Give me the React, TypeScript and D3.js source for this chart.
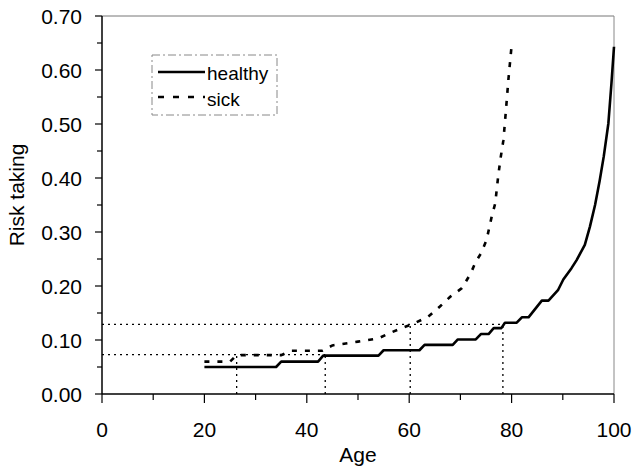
import React from "react";
import * as d3 from "d3";

const healthyAge = [20, 34, 35, 42.2, 43.2, 54, 55, 62, 63, 68.5, 69.5, 73, 74, 75.5, 76.5, 78, 78.7, 81, 82, 83.3, 85.9, 87.2, 89.1, 90.1, 91.7, 92.7, 94.3, 95.3, 96.3, 97.2, 98, 98.9, 99.5, 100];
const healthyRisk = [0.05, 0.05, 0.06, 0.06, 0.071, 0.071, 0.081, 0.081, 0.091, 0.091, 0.101, 0.101, 0.111, 0.111, 0.122, 0.122, 0.132, 0.132, 0.142, 0.142, 0.173, 0.173, 0.193, 0.212, 0.233, 0.248, 0.276, 0.31, 0.35, 0.395, 0.44, 0.501, 0.575, 0.643];

const sickAge = [20, 25, 26.3, 35, 37, 43, 45, 50, 54, 56, 58.5, 61, 63.7, 66, 68, 70.3, 72, 73, 74, 75.1, 76.1, 76.8, 77.4, 77.9, 78.4, 78.9, 79.4, 80];
const sickRisk = [0.06, 0.06, 0.072, 0.072, 0.08, 0.08, 0.09, 0.097, 0.103, 0.112, 0.122, 0.131, 0.143, 0.162, 0.18, 0.196, 0.223, 0.245, 0.26, 0.285, 0.328, 0.353, 0.405, 0.44, 0.47, 0.526, 0.585, 0.645];

// reference (dotted) guide lines: [level, age of sick, age of healthy]
const guideLevels = [0.073, 0.129];
const guideSickAges = [26.3, 60.2];
const guideHealthyAges = [43.6, 78.3];

const xMajor = [0, 20, 40, 60, 80, 100];
const xMinor = [10, 30, 50, 70, 90];
const yMajor = [0, 0.1, 0.2, 0.3, 0.4, 0.5, 0.6, 0.7];
const yMinor = [0.05, 0.15, 0.25, 0.35, 0.45, 0.55, 0.65];

const FONT = "'Liberation Sans', Arial, sans-serif";

export default function App() {
  const x = d3.scaleLinear().domain([0, 100]).range([102, 614]);
  const y = d3.scaleLinear().domain([0, 0.7]).range([394, 16]);
  const line = d3
    .line<[number, number]>()
    .x((d) => x(d[0]))
    .y((d) => y(d[1]));
  const healthy = healthyAge.map((a, i) => [a, healthyRisk[i]] as [number, number]);
  const sick = sickAge.map((a, i) => [a, sickRisk[i]] as [number, number]);

  return (
    <svg
      width={635}
      height={473}
      style={{ position: "absolute", left: 0, top: 0, background: "#fff" }}
      fontFamily={FONT}
    >
      {/* frame top/right */}
      <line x1={x(0)} x2={x(100)} y1={y(0.7)} y2={y(0.7)} stroke="#777" strokeWidth={1} />
      <line x1={x(100)} x2={x(100)} y1={y(0.7)} y2={y(0)} stroke="#888" strokeWidth={1} />

      {/* guide lines */}
      {guideLevels.map((lv, i) => (
        <g key={"g" + i} stroke="#000" strokeWidth={1.3} strokeDasharray="2,4" fill="none">
          <line x1={x(0)} x2={x(guideHealthyAges[i])} y1={y(lv)} y2={y(lv)} />
          <line x1={x(guideSickAges[i])} x2={x(guideSickAges[i])} y1={y(0)} y2={y(lv)} />
          <line x1={x(guideHealthyAges[i])} x2={x(guideHealthyAges[i])} y1={y(0)} y2={y(lv)} />
        </g>
      ))}

      {/* curves */}
      <path d={line(healthy) || ""} fill="none" stroke="#000" strokeWidth={2.6} strokeLinejoin="round" />
      <path d={line(sick) || ""} fill="none" stroke="#000" strokeWidth={2.6} strokeDasharray="5,8" />

      {/* axes */}
      <line x1={x(0)} x2={x(0)} y1={y(0.7)} y2={y(0)} stroke="#000" strokeWidth={1.5} />
      <line x1={x(0)} x2={x(100)} y1={y(0)} y2={y(0)} stroke="#000" strokeWidth={1.5} />
      {yMajor.map((v) => (
        <g key={"ym" + v}>
          <line x1={95} x2={x(0)} y1={y(v)} y2={y(v)} stroke="#000" strokeWidth={1.2} />
          <text x={82} y={y(v) + 8} textAnchor="end" fontSize={21}>
            {v.toFixed(2)}
          </text>
        </g>
      ))}
      {yMinor.map((v) => (
        <line key={"yn" + v} x1={97} x2={x(0)} y1={y(v)} y2={y(v)} stroke="#000" strokeWidth={1.2} />
      ))}
      {xMajor.map((v) => (
        <g key={"xm" + v}>
          <line x1={x(v)} x2={x(v)} y1={y(0)} y2={403} stroke="#000" strokeWidth={1.2} />
          <text x={x(v)} y={437} textAnchor="middle" fontSize={21}>
            {v}
          </text>
        </g>
      ))}
      {xMinor.map((v) => (
        <line key={"xn" + v} x1={x(v)} x2={x(v)} y1={y(0)} y2={400} stroke="#000" strokeWidth={1.2} />
      ))}

      {/* axis titles */}
      <text x={x(50)} y={462} textAnchor="middle" fontSize={21}>
        Age
      </text>
      <text transform="translate(24,195) rotate(-90)" textAnchor="middle" fontSize={21}>
        Risk taking
      </text>

      {/* legend */}
      <rect x={152} y={55} width={125} height={60} fill="none" stroke="#888" strokeWidth={1} strokeDasharray="8,3,2,3" />
      <line x1={158} x2={205} y1={72} y2={72} stroke="#000" strokeWidth={2.6} />
      <text x={207} y={80} fontSize={19}>
        healthy
      </text>
      <line x1={158} x2={205} y1={97} y2={97} stroke="#000" strokeWidth={2.6} strokeDasharray="6,9" />
      <text x={207} y={106} fontSize={19}>
        sick
      </text>
    </svg>
  );
}
